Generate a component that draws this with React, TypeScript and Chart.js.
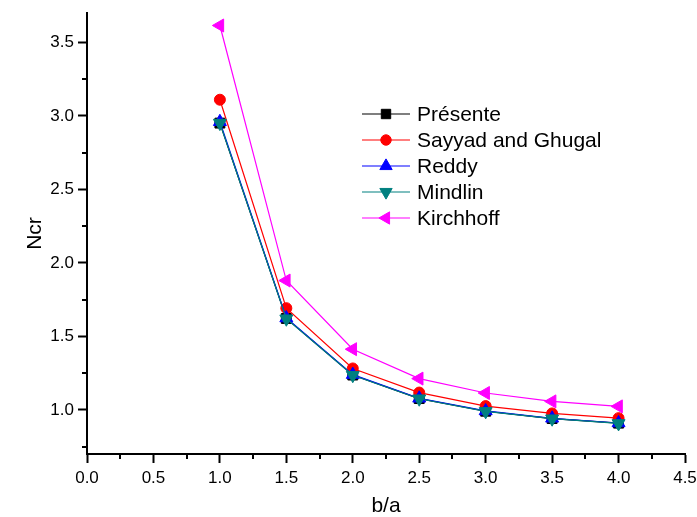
import React, { useEffect, useRef } from 'react';
import { Chart, registerables } from 'chart.js';

Chart.register(...registerables);

const ratios = [1, 1.5, 2, 2.5, 3, 3.5, 4];
const presente = [2.951, 1.622, 1.237, 1.077, 0.991, 0.941, 0.910];
const sayyadGhugal = [3.110, 1.692, 1.282, 1.118, 1.026, 0.976, 0.944];
const reddy = [2.960, 1.625, 1.240, 1.079, 0.993, 0.943, 0.911];
const mindlin = [2.951, 1.620, 1.236, 1.076, 0.990, 0.940, 0.908];
const kirchhoff = [3.615, 1.880, 1.413, 1.213, 1.115, 1.058, 1.024];

const seriesNames = ['Présente', 'Sayyad and Ghugal', 'Reddy', 'Mindlin', 'Kirchhoff'];
const seriesValues = [presente, sayyadGhugal, reddy, mindlin, kirchhoff];
const seriesColors = ['#000000', '#ff0000', '#0000ff', '#008080', '#ff00ff'];
const seriesShapes = ['rect', 'circle', 'triangle', 'triangle', 'triangle'];
const seriesRotations = [0, 0, 0, 180, 270];
const seriesRadii = [7, 5.5, 7.5, 7.5, 7.5];

const yMajorTicks = [1.0, 1.5, 2.0, 2.5, 3.0, 3.5];
const yMinorTicks = [0.75, 1.25, 1.75, 2.25, 2.75, 3.25];
const xMinorTicks = [0.25, 0.75, 1.25, 1.75, 2.25, 2.75, 3.25, 3.75, 4.25];

const FONT = "Arial, 'Liberation Sans', sans-serif";

function drawMarker(ctx: CanvasRenderingContext2D, shape: string, rotation: number, r: number, x: number, y: number, color: string) {
  ctx.save();
  ctx.fillStyle = color;
  ctx.strokeStyle = color;
  ctx.lineWidth = 1;
  ctx.beginPath();
  if (shape === 'circle') {
    ctx.arc(x, y, r, 0, Math.PI * 2);
  } else if (shape === 'rect') {
    const s = r * Math.SQRT1_2;
    ctx.rect(x - s, y - s, 2 * s, 2 * s);
  } else {
    let rad = (rotation * Math.PI) / 180;
    ctx.moveTo(x + Math.sin(rad) * r, y - Math.cos(rad) * r);
    rad += (2 * Math.PI) / 3;
    ctx.lineTo(x + Math.sin(rad) * r, y - Math.cos(rad) * r);
    rad += (2 * Math.PI) / 3;
    ctx.lineTo(x + Math.sin(rad) * r, y - Math.cos(rad) * r);
    ctx.closePath();
  }
  ctx.fill();
  ctx.stroke();
  ctx.restore();
}

const legendPlugin = {
  id: 'customLegend',
  afterDraw(chart: any) {
    const ctx: CanvasRenderingContext2D = chart.ctx;
    const x0 = 362;
    const x1 = 410;
    const xm = 386;
    const xt = 417;
    const y0 = 114;
    const dy = 26;
    ctx.save();
    seriesNames.forEach((name, i) => {
      const y = y0 + i * dy;
      ctx.strokeStyle = seriesColors[i];
      ctx.lineWidth = 1.2;
      ctx.beginPath();
      ctx.moveTo(x0, y);
      ctx.lineTo(x1, y);
      ctx.stroke();
      drawMarker(ctx, seriesShapes[i], seriesRotations[i], seriesRadii[i] * 0.95, xm, y, seriesColors[i]);
      ctx.fillStyle = '#000';
      ctx.font = `21px ${FONT}`;
      ctx.textBaseline = 'middle';
      ctx.textAlign = 'left';
      ctx.fillText(name, xt, y + 1);
    });
    ctx.restore();
  },
};

const minorTickPlugin = {
  id: 'minorTicks',
  afterDraw(chart: any) {
    const ctx: CanvasRenderingContext2D = chart.ctx;
    const xs = chart.scales.x;
    const ys = chart.scales.y;
    const len = 5;
    ctx.save();
    ctx.strokeStyle = '#000';
    ctx.lineWidth = 2;
    ctx.beginPath();
    xMinorTicks.forEach((v) => {
      const px = Math.round(xs.getPixelForValue(v));
      ctx.moveTo(px, xs.top);
      ctx.lineTo(px, xs.top + len);
    });
    yMinorTicks.forEach((v) => {
      const py = Math.round(ys.getPixelForValue(v));
      ctx.moveTo(ys.right, py);
      ctx.lineTo(ys.right - len, py);
    });
    ctx.stroke();
    ctx.restore();
  },
};

export default function App() {
  const canvasRef = useRef<HTMLCanvasElement | null>(null);

  useEffect(() => {
    const canvas = canvasRef.current;
    if (!canvas) return;
    const datasets = seriesNames.map((name, i) => ({
      label: name,
      data: ratios.map((x, j) => ({ x, y: seriesValues[i][j] })),
      borderColor: seriesColors[i],
      backgroundColor: seriesColors[i],
      pointBackgroundColor: seriesColors[i],
      pointBorderColor: seriesColors[i],
      pointBorderWidth: 1,
      borderWidth: 1.2,
      pointStyle: seriesShapes[i],
      pointRotation: seriesRotations[i],
      pointRadius: seriesRadii[i],
      tension: 0,
      fill: false,
      order: 5 - i,
    }));

    const chart = new Chart(canvas, {
      type: 'line',
      data: { datasets },
      plugins: [minorTickPlugin, legendPlugin],
      options: {
        animation: false,
        responsive: false,
        devicePixelRatio: 1,
        layout: { padding: { top: 13, right: 12, left: 0, bottom: 0 } },
        plugins: {
          legend: { display: false },
          tooltip: { enabled: false },
        },
        scales: {
          x: {
            type: 'linear',
            min: 0,
            max: 4.5,
            ticks: {
              stepSize: 0.5,
              color: '#000',
              font: { size: 17, family: FONT },
              padding: 5,
              maxRotation: 0,
              callback: (v: any) => Number(v).toFixed(1),
            },
            grid: {
              display: true,
              drawOnChartArea: false,
              drawTicks: true,
              tickLength: 9,
              tickWidth: 2,
              tickColor: '#000',
              color: '#000',
            },
            border: { display: true, color: '#000', width: 2 },
            title: {
              display: true,
              text: 'b/a',
              color: '#000',
              font: { size: 21, family: FONT, lineHeight: 1 },
              padding: { top: 0, bottom: 0 },
            },
            afterFit: (scale: any) => {
              scale.height = 63;
              scale.paddingLeft = 0;
              scale.paddingRight = 0;
            },
          },
          y: {
            type: 'linear',
            min: 0.7,
            max: 3.7,
            afterBuildTicks: (scale: any) => {
              scale.ticks = yMajorTicks.map((v) => ({ value: v }));
            },
            ticks: {
              color: '#000',
              font: { size: 17, family: FONT },
              padding: 4,
              callback: (v: any) => Number(v).toFixed(1),
            },
            grid: {
              display: true,
              drawOnChartArea: false,
              drawTicks: true,
              tickLength: 9,
              tickWidth: 2,
              tickColor: '#000',
              color: '#000',
            },
            border: { display: true, color: '#000', width: 2 },
            title: {
              display: true,
              text: 'Ncr',
              color: '#000',
              font: { size: 21, family: FONT, lineHeight: 1 },
              padding: { top: 25, bottom: 0 },
            },
            afterFit: (scale: any) => {
              scale.width = 87;
              scale.paddingTop = 0;
              scale.paddingBottom = 0;
            },
          },
        },
      } as any,
    });

    return () => {
      chart.destroy();
    };
  }, []);

  return (
    <div style={{ position: 'absolute', left: 0, top: 0, width: 697, height: 517, background: '#fff' }}>
      <canvas ref={canvasRef} width={697} height={517} style={{ display: 'block' }} />
    </div>
  );
}
